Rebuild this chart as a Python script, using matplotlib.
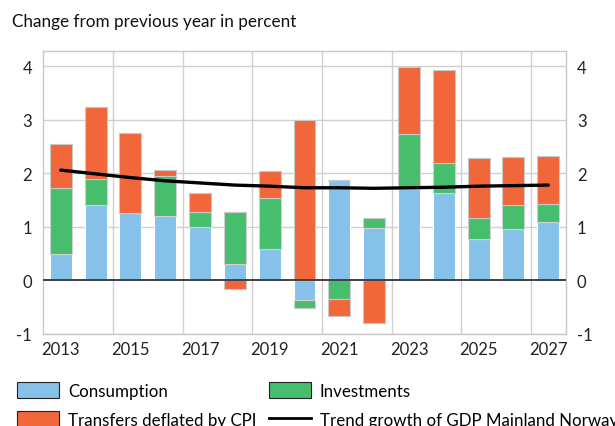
import numpy as np
import matplotlib
matplotlib.use('Agg')
import matplotlib.pyplot as plt
from matplotlib.patches import Patch
from matplotlib.lines import Line2D

plt.rcParams['font.family'] = ['Lato', 'DejaVu Sans']

# Dati (variazione % sull'anno precedente)
anni = list(range(2013, 2028))
consumo = [0.49, 1.41, 1.25, 1.20, 0.99, 0.31, 0.58, -0.36, 1.88, 0.98, 1.70, 1.64, 0.78, 0.96, 1.10]
investimenti = [1.24, 0.49, 0.01, 0.75, 0.29, 0.96, 0.96, -0.15, -0.34, 0.19, 1.03, 0.55, 0.38, 0.44, 0.32]
trasferimenti = [0.82, 1.34, 1.50, 0.11, 0.35, -0.16, 0.51, 3.00, -0.33, -0.79, 1.26, 1.73, 1.12, 0.91, 0.91]
trend = [2.06, 1.99, 1.92, 1.86, 1.82, 1.78, 1.76, 1.73, 1.73, 1.72, 1.73, 1.74, 1.76, 1.77, 1.78]

col_blu = '#85C1E9'
col_verde = '#47BE6D'
col_arancio = '#F2673A'

fig = plt.figure(figsize=(6.15, 4.27), dpi=100)
ax = fig.add_axes([0.0704, 0.2155, 0.8494, 0.6635])

x = np.arange(len(anni))
larg = 0.63

# impilamento stile Excel: positivi verso l'alto, negativi verso il basso
base_pos = np.zeros(len(anni))
base_neg = np.zeros(len(anni))
for serie, col, ec in [(consumo, col_blu, 'white'),
                       (investimenti, col_verde, '#d0d0d0'),
                       (trasferimenti, col_arancio, '#c8c8c8')]:
    v = np.array(serie)
    pos = np.where(v > 0, v, 0)
    neg = np.where(v < 0, v, 0)
    ax.bar(x, pos, larg, bottom=base_pos, color=col, edgecolor=ec, linewidth=0.8, zorder=3)
    ax.bar(x, neg, larg, bottom=base_neg, color=col, edgecolor=ec, linewidth=0.8, zorder=3)
    base_pos += pos
    base_neg += neg

ax.plot(x, trend, color='black', lw=2.4, zorder=5, solid_capstyle='round')
ax.axhline(0, color='#404040', lw=1.4, zorder=4)

ax.set_xlim(-0.5, len(anni) - 0.5)
ax.set_ylim(-1, 4.29)
ax.set_yticks([-1, 0, 1, 2, 3, 4])
ax.set_yticklabels(['-1', '0', '1', '2', '3', '4'], fontsize=12)
ax.set_xticks(x[::2])
ax.set_xticklabels([str(a) for a in anni[::2]], fontsize=12)
ax.tick_params(axis='both', length=0, pad=5, colors='#222222')
ax.tick_params(axis='y', labelright=True, labelleft=True, pad=8)

# griglia
for yy in [-1, 1, 2, 3, 4]:
    ax.axhline(yy, color='#d0d0d0', lw=1.0, zorder=1)
for xx in np.arange(1.5, len(anni) - 1, 2):
    ax.axvline(xx, color='#d0d0d0', lw=1.0, zorder=1)
for s in ax.spines.values():
    s.set_color('#c8c8c8')
    s.set_linewidth(1.0)

fig.text(0.019, 0.948, 'Change from previous year in percent', fontsize=12.3, va='center', ha='left', color='#111111')

handles = [Patch(facecolor=col_blu, edgecolor='#222222', lw=0.8),
           Patch(facecolor=col_arancio, edgecolor='#222222', lw=0.8),
           Patch(facecolor=col_verde, edgecolor='#222222', lw=0.8),
           Line2D([0], [0], color='black', lw=2)]
labels = ['Consumption', 'Transfers deflated by CPI', 'Investments', 'Trend growth of GDP Mainland Norway']
fig.legend(handles, labels, ncol=2, loc='upper left', bbox_to_anchor=(0.0276, 0.103),
           frameon=False, fontsize=12.2, handlelength=2.5, handleheight=1.05,
           handletextpad=0.53, columnspacing=0.7, labelspacing=0.75, borderaxespad=0, borderpad=0)

fig.savefig('out.png', dpi=100)
